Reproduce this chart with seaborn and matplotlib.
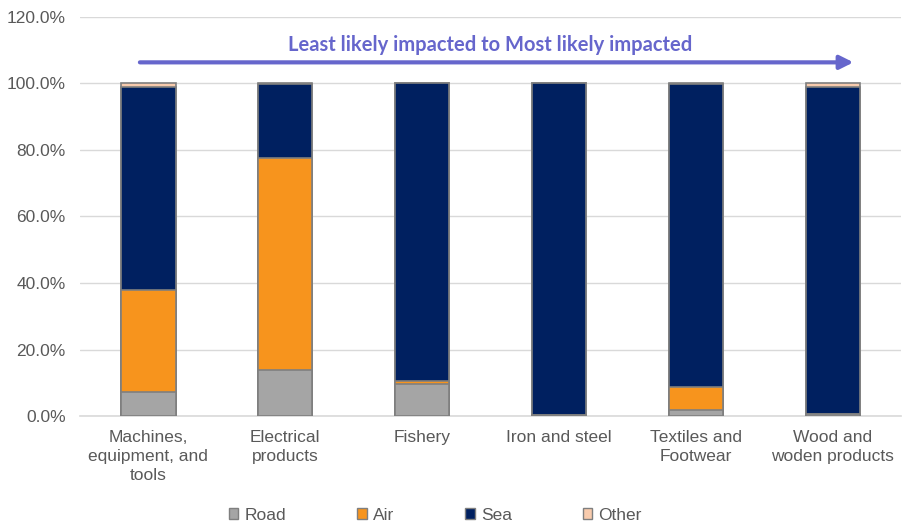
import matplotlib
matplotlib.use("Agg")
import matplotlib.pyplot as plt
from matplotlib.patches import Patch
import numpy as np
import pandas as pd
import seaborn as sns

categories = ["Machines,\nequipment, and\ntools", "Electrical\nproducts", "Fishery",
              "Iron and steel", "Textiles and\nFootwear", "Wood and\nwoden products"]
road = [7.2, 13.8, 9.6, 0.3, 1.8, 0.5]
air = [30.6, 63.7, 0.8, 0.0, 6.9, 0.0]
sea = [61.0, 22.3, 89.6, 99.7, 91.0, 98.3]
other = [1.2, 0.2, 0.0, 0.0, 0.3, 1.2]

series = ["Road", "Air", "Sea", "Other"]
colors = {"Road": "#A5A5A5", "Air": "#F7941D", "Sea": "#002060", "Other": "#F8CBAD"}

df = pd.DataFrame({"category": categories, "Road": road, "Air": air, "Sea": sea, "Other": other})
cum = df[series].cumsum(axis=1)

sns.set_style("white")
plt.rcParams["font.family"] = ["Liberation Sans", "DejaVu Sans"]

fig = plt.figure(figsize=(9.05, 5.24), dpi=100)
ax = fig.add_axes([0.088, 0.206, 0.908, 0.762])

# stacked bars: draw cumulative totals from the top segment down
for name in reversed(series):
    sns.barplot(x=df["category"], y=cum[name], color=colors[name], width=0.4,
                edgecolor="#7F7F7F", linewidth=1.2, ax=ax, zorder=3, saturation=1)

ax.set_ylim(0, 120)
ax.set_xlim(-0.5, 5.5)
ax.set_yticks(np.arange(0, 121, 20))
ax.set_yticklabels([f"{v:.1f}%" for v in np.arange(0, 121, 20)])
ax.yaxis.grid(True, color="#D9D9D9", linewidth=1, zorder=0)
ax.set_axisbelow(True)
for s in ["top", "right", "left"]:
    ax.spines[s].set_visible(False)
ax.spines["bottom"].set_color("#D9D9D9")
ax.spines["bottom"].set_linewidth(1.2)
ax.tick_params(axis="both", length=0, labelsize=12.5, colors="#595959", pad=10)
ax.tick_params(axis="x", pad=10)
for lbl in ax.get_xticklabels():
    lbl.set_linespacing(1.35)
ax.set_xlabel("")
ax.set_ylabel("")

# ordering arrow with caption
arrow_color = "#6666CC"
ax.annotate("", xy=(5.15, 106.3), xytext=(-0.06, 106.3),
            arrowprops=dict(arrowstyle="-|>,head_length=0.8,head_width=0.4",
                            color=arrow_color, lw=3, shrinkA=0, shrinkB=0))
ax.text(2.5, 111.6, "Least likely impacted to Most likely impacted", ha="center", va="center",
        fontsize=14.5, fontweight="bold", color=arrow_color, family=["Lato", "DejaVu Sans"])

handles = [Patch(facecolor=colors[n], edgecolor="#7F7F7F", linewidth=1, label=n) for n in series]
fig.legend(handles=handles, loc="center", bbox_to_anchor=(0.481, 0.017), ncol=4, frameon=False,
           fontsize=12.5, labelcolor="#595959", handlelength=0.55, handleheight=0.55,
           handletextpad=0.35, columnspacing=4.1)

fig.savefig("out.png", dpi=100)
